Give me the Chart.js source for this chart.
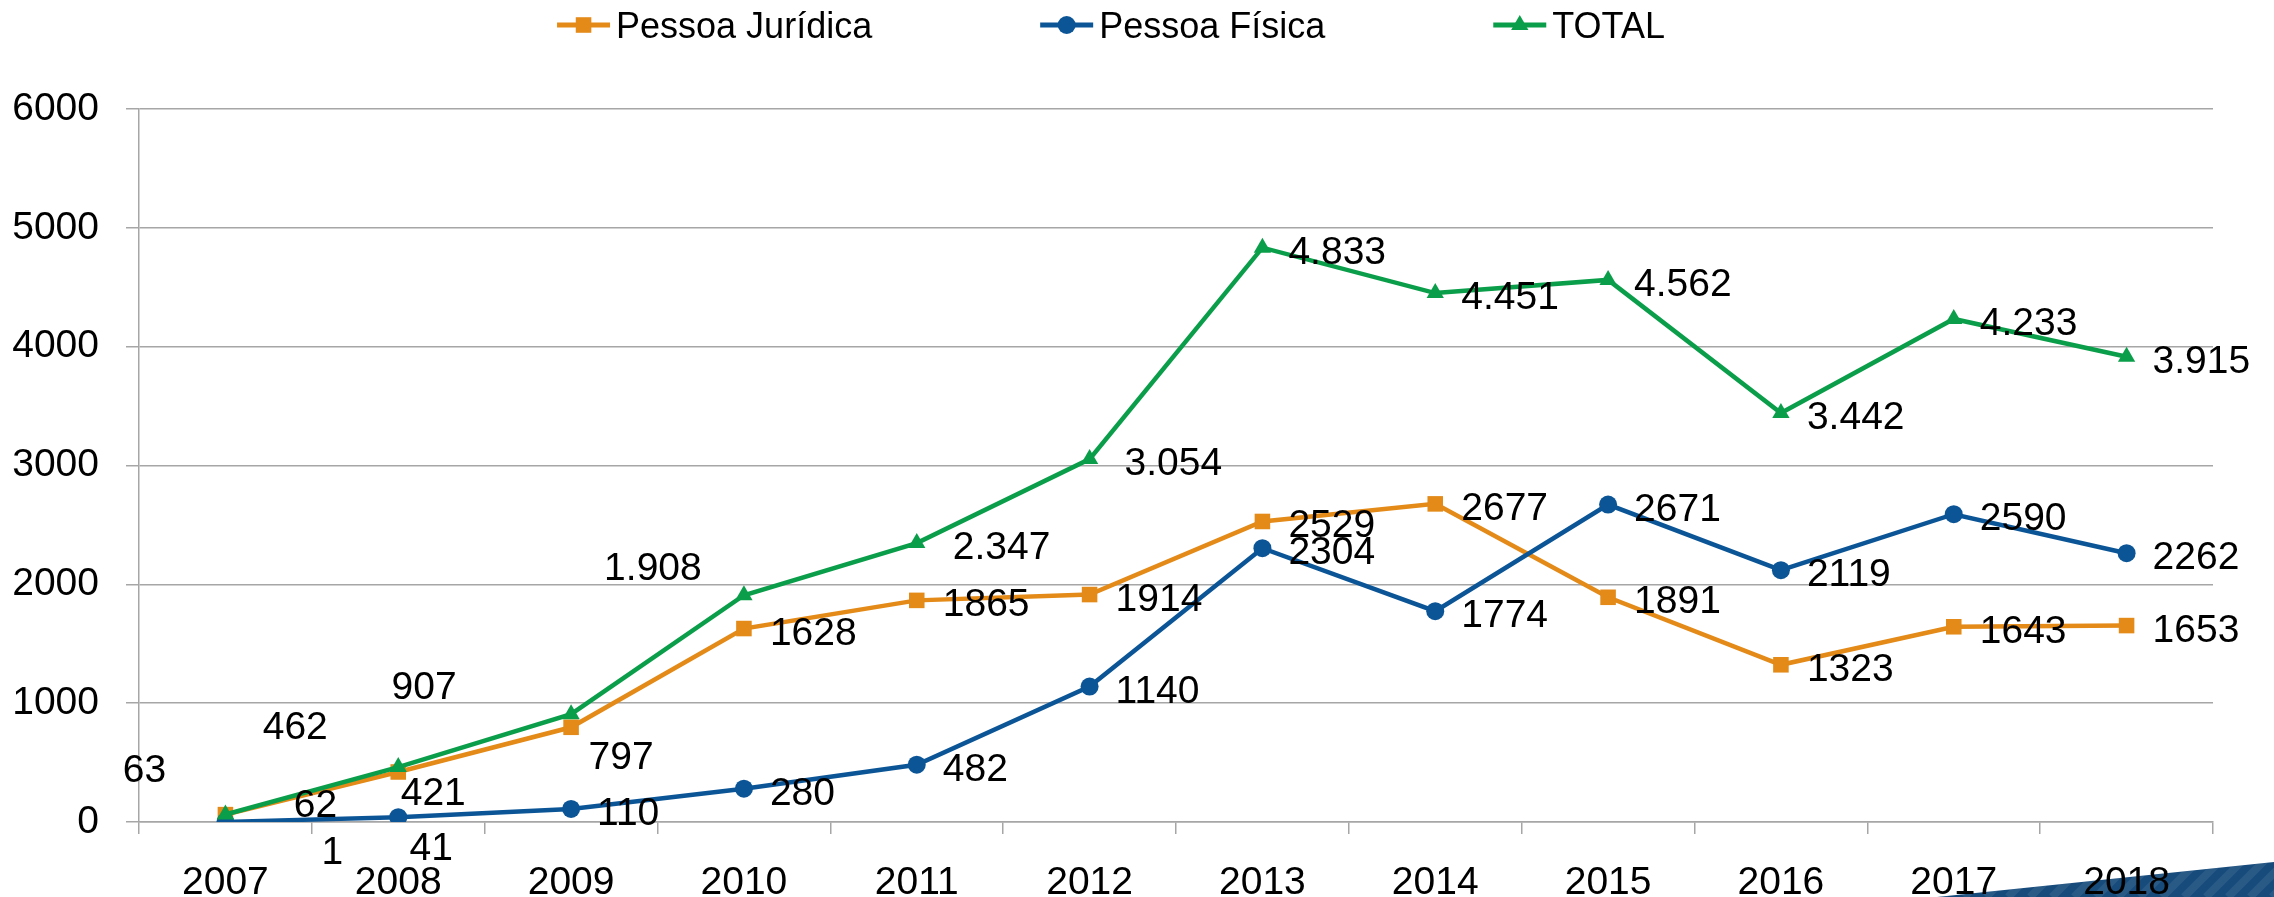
<!DOCTYPE html>
<html>
<head>
<meta charset="utf-8">
<script src="https://cdn.jsdelivr.net/npm/chart.js@4.4.1/dist/chart.umd.min.js"></script>
<style>
  html, body { margin: 0; padding: 0; background: #fff; }
  #wrap { width: 2274px; height: 897px; }
</style>
</head>
<body>
<div id="wrap"><canvas id="chart" width="2274" height="897"></canvas></div>
<script>
// data
const years = ['2007','2008','2009','2010','2011','2012','2013','2014','2015','2016','2017','2018'];
const juridica = [62, 421, 797, 1628, 1865, 1914, 2529, 2677, 1891, 1323, 1643, 1653];
const fisica = [1, 41, 110, 280, 482, 1140, 2304, 1774, 2671, 2119, 2590, 2262];
const total = [63, 462, 907, 1908, 2347, 3054, 4833, 4451, 4562, 3442, 4233, 3915];
const yTicks = [0, 1000, 2000, 3000, 4000, 5000, 6000];

const ORANGE = '#e38a18';
const BLUE = '#0b5597';
const GREEN = '#0b9e4a';
const GRID = '#a6a6a6';
const FONT = '"Liberation Sans", Arial, sans-serif';

Chart.defaults.font.family = FONT;
Chart.defaults.font.size = 39;
Chart.defaults.color = '#000';

// total uses a dot as thousands separator, the other two do not
function plain(v){ return String(v); }
function dotted(v){ return v >= 1000 ? Math.floor(v/1000) + '.' + String(v % 1000).padStart(3,'0') : String(v); }
const formats = [plain, plain, dotted];

// default label sits right of the point; a few were moved by hand in the original
const labelMoves = {
    0: { 0: {align:'center', dx:90, dy:-12}, 1: {align:'center', dx:35, dy:19}, 2: {align:'center', dx:50, dy:28} },
    1: { 0: {align:'center', dx:107, dy:28}, 1: {align:'center', dx:33, dy:29} },
    2: { 0: {align:'center', dx:-81, dy:-47}, 1: {align:'center', dx:-103, dy:-42}, 2: {align:'center', dx:-147, dy:-29},
         3: {align:'center', dx:-91, dy:-29}, 4: {align:'left', dx:36, dy:2}, 5: {align:'left', dx:35, dy:2} }
};

const bandPlugin = {
    id: 'band',
    beforeDraw(chart){
        const ctx = chart.ctx, W = chart.width, H = chart.height;
        ctx.save();
        ctx.fillStyle = '#fff';
        ctx.fillRect(0, 0, W, H);
        ctx.beginPath();
        ctx.moveTo(W - 337, H); ctx.lineTo(W, H - 35); ctx.lineTo(W, H); ctx.closePath();
        ctx.fillStyle = '#174b7b';
        ctx.fill();
        ctx.clip();
        ctx.strokeStyle = 'rgba(255,255,255,0.08)';
        ctx.lineWidth = 8;
        for (let x = W - 420; x < W + 40; x += 22) {
            ctx.beginPath(); ctx.moveTo(x, H); ctx.lineTo(x + 40, H - 40); ctx.stroke();
        }
        ctx.restore();
    }
};

const labelPlugin = {
    id: 'pointLabels',
    afterDatasetsDraw(chart){
        const ctx = chart.ctx;
        ctx.save();
        ctx.font = '39px ' + FONT;
        ctx.fillStyle = '#000';
        ctx.textBaseline = 'alphabetic';
        chart.data.datasets.forEach((ds, di) => {
            const meta = chart.getDatasetMeta(di);
            meta.data.forEach((pt, i) => {
                const o = (labelMoves[di] && labelMoves[di][i]) || {align:'left', dx:26, dy:2};
                ctx.textAlign = o.align;
                ctx.fillText(formats[di](ds.data[i]), pt.x + o.dx, pt.y + o.dy + 14);
            });
        });
        ctx.restore();
    }
};

// excel style legend: short line with the marker in the middle
const legendPlugin = {
    id: 'topLegend',
    afterDraw(chart){
        const ctx = chart.ctx;
        ctx.save();
        ctx.font = '36px ' + FONT;
        const items = chart.data.datasets.map(ds => ({ds, w: 53 + 6 + ctx.measureText(ds.label).width}));
        const gap = 168;
        const totalW = items.reduce((s, it) => s + it.w, 0) + gap * (items.length - 1);
        let x = 1111 - totalW / 2;
        const y = 25;
        items.forEach(it => {
            const ds = it.ds;
            ctx.strokeStyle = ds.borderColor;
            ctx.lineWidth = 5;
            ctx.beginPath(); ctx.moveTo(x, y); ctx.lineTo(x + 53, y); ctx.stroke();
            ctx.fillStyle = ds.pointBackgroundColor;
            Chart.helpers.drawPoint(ctx, {pointStyle: ds.pointStyle, radius: ds.pointRadius, borderWidth: 0, rotation: 0}, x + 26.5, y);
            ctx.fillStyle = '#000';
            ctx.textAlign = 'left';
            ctx.textBaseline = 'alphabetic';
            ctx.fillText(ds.label, x + 59, y + 13);
            x += it.w + gap;
        });
        ctx.restore();
    }
};

function series(label, data, color, style, radius, order){
    return { label, data, borderColor: color, backgroundColor: color, pointBackgroundColor: color,
             pointBorderColor: color, pointBorderWidth: 0, pointStyle: style, pointRadius: radius,
             pointHoverRadius: radius, borderWidth: 4.5, fill: false, tension: 0, order };
}

new Chart(document.getElementById('chart'), {
    type: 'line',
    data: {
        labels: years,
        datasets: [
            series('Pessoa Jurídica', juridica, ORANGE, 'rect', 11, 3),
            series('Pessoa Física', fisica, BLUE, 'circle', 9, 2),
            series('TOTAL', total, GREEN, 'triangle', 10, 1)
        ]
    },
    options: {
        responsive: false,
        animation: false,
        devicePixelRatio: 1,
        layout: { padding: { top: 109, right: 61, left: 0, bottom: 0 } },
        plugins: { legend: { display: false }, tooltip: { enabled: false } },
        scales: {
            x: {
                offset: true,
                grid: { offset: true, drawOnChartArea: false, drawTicks: true, tickLength: 12, color: GRID, lineWidth: 1.5 },
                border: { display: true, color: GRID, width: 1.5 },
                ticks: { color: '#000', padding: 26, maxRotation: 0, autoSkip: false },
                afterFit(s){ s.height = 75; }
            },
            y: {
                min: 0, max: 6000,
                afterBuildTicks(s){ s.ticks = yTicks.map(v => ({value: v})); },
                grid: { color: GRID, lineWidth: 1.5, tickLength: 13 },
                border: { display: true, color: GRID, width: 1.5 },
                ticks: { color: '#000', padding: 27, callback: v => String(v) },
                afterFit(s){ s.width = 139; }
            }
        }
    },
    plugins: [bandPlugin, labelPlugin, legendPlugin]
});
</script>
</body>
</html>
